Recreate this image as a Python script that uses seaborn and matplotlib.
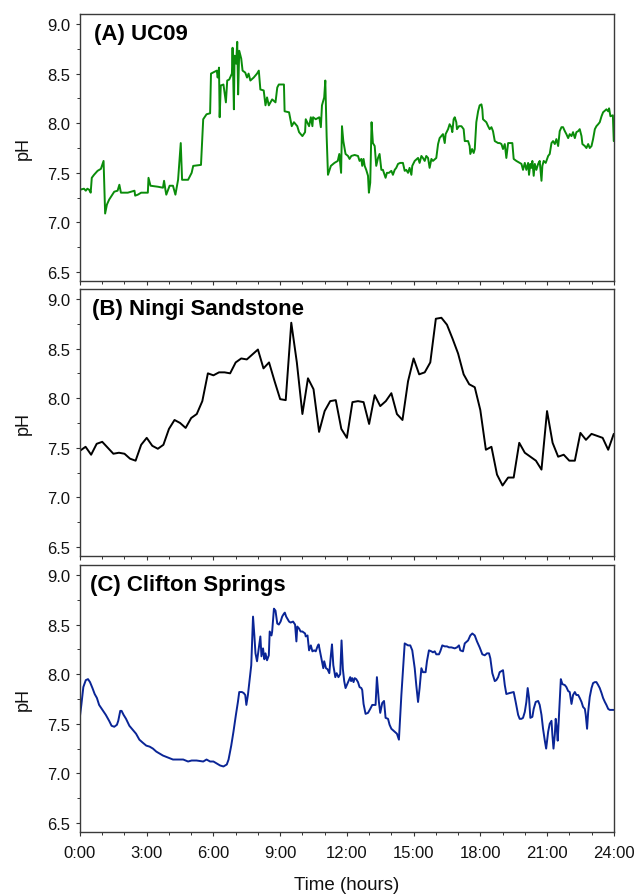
import numpy as np
import pandas as pd
import matplotlib
matplotlib.use("Agg")
import matplotlib.pyplot as plt
from matplotlib.ticker import MultipleLocator, FuncFormatter
import seaborn as sns

# ---- (A) UC09: logged pH, time in hours since midnight ----
uc09_hours = [
    0.00, 0.18, 0.26, 0.33, 0.41, 0.48, 0.53, 0.63, 0.79, 0.94,
    1.06, 1.13, 1.21, 1.31, 1.54, 1.69, 1.77, 1.84, 2.15, 2.45,
    2.48, 2.60, 2.75, 3.05, 3.08, 3.17, 3.50, 3.73, 3.78, 3.84,
    3.88, 4.03, 4.18, 4.29, 4.41, 4.53, 4.59, 4.86, 5.02, 5.09,
    5.44, 5.54, 5.69, 5.85, 5.89, 6.15, 6.19, 6.25, 6.28, 6.33,
    6.45, 6.56, 6.62, 6.71, 6.83, 6.86, 6.92, 6.95, 7.02, 7.07,
    7.11, 7.16, 7.25, 7.31, 7.43, 7.51, 7.58, 7.66, 7.81, 7.96,
    8.04, 8.11, 8.26, 8.34, 8.41, 8.49, 8.64, 8.79, 8.87, 8.94,
    9.17, 9.20, 9.40, 9.52, 9.62, 9.77, 9.85, 10.00, 10.12, 10.15,
    10.30, 10.38, 10.45, 10.48, 10.60, 10.76, 10.83, 10.88, 10.98, 11.03,
    11.09, 11.15, 11.28, 11.44, 11.59, 11.66, 11.74, 11.78, 11.84, 11.90,
    11.94, 12.05, 12.12, 12.20, 12.35, 12.50, 12.57, 12.65, 12.69, 12.75,
    12.80, 12.87, 12.95, 12.99, 13.05, 13.11, 13.17, 13.25, 13.32, 13.40,
    13.47, 13.55, 13.62, 13.74, 13.80, 13.89, 14.00, 14.07, 14.15, 14.22,
    14.30, 14.40, 14.52, 14.60, 14.67, 14.75, 14.82, 14.90, 14.94, 15.05,
    15.20, 15.27, 15.35, 15.42, 15.50, 15.57, 15.65, 15.72, 15.80, 15.87,
    16.02, 16.10, 16.17, 16.32, 16.40, 16.44, 16.55, 16.62, 16.70, 16.74,
    16.80, 16.85, 16.92, 16.95, 17.04, 17.15, 17.25, 17.30, 17.45, 17.52,
    17.55, 17.63, 17.70, 17.75, 17.82, 17.90, 17.97, 18.05, 18.09, 18.12,
    18.27, 18.35, 18.42, 18.50, 18.57, 18.65, 18.80, 18.87, 18.95, 19.02,
    19.10, 19.17, 19.25, 19.44, 19.50, 19.62, 19.77, 19.85, 19.92, 20.00,
    20.07, 20.15, 20.19, 20.25, 20.30, 20.34, 20.40, 20.45, 20.52, 20.60,
    20.67, 20.75, 20.79, 20.85, 20.94, 21.05, 21.12, 21.20, 21.27, 21.35,
    21.42, 21.50, 21.57, 21.65, 21.72, 21.80, 21.87, 21.95, 22.02, 22.10,
    22.17, 22.25, 22.32, 22.40, 22.47, 22.55, 22.59, 22.70, 22.77, 22.85,
    22.92, 23.00, 23.07, 23.15, 23.22, 23.30, 23.37, 23.45, 23.52, 23.67,
    23.75, 23.79, 23.85, 23.96, 24.00,
]
uc09_ph = [
    7.33, 7.34, 7.32, 7.34, 7.33, 7.30, 7.45, 7.48, 7.52, 7.54,
    7.62, 7.09, 7.18, 7.23, 7.31, 7.32, 7.38, 7.30, 7.30, 7.32,
    7.27, 7.28, 7.30, 7.30, 7.45, 7.37, 7.36, 7.35, 7.42, 7.33,
    7.28, 7.37, 7.37, 7.28, 7.43, 7.80, 7.43, 7.43, 7.50, 7.57,
    7.58, 8.04, 8.09, 8.10, 8.50, 8.53, 8.46, 8.56, 8.06, 8.38,
    8.39, 8.21, 8.43, 8.44, 8.50, 8.76, 8.14, 8.68, 8.60, 8.82,
    8.29, 8.73, 8.65, 8.53, 8.51, 8.46, 8.50, 8.43, 8.46, 8.50,
    8.53, 8.34, 8.33, 8.18, 8.26, 8.18, 8.24, 8.21, 8.36, 8.39,
    8.39, 8.12, 8.11, 7.97, 8.01, 7.97, 7.91, 7.87, 7.91, 8.04,
    7.97, 8.06, 7.97, 8.06, 8.04, 8.06, 7.96, 8.18, 8.26, 8.43,
    7.87, 7.48, 7.57, 7.60, 7.62, 7.69, 7.50, 7.97, 7.82, 7.74,
    7.69, 7.67, 7.64, 7.67, 7.68, 7.67, 7.62, 7.64, 7.57, 7.64,
    7.57, 7.53, 7.47, 7.30, 7.40, 8.01, 7.80, 7.77, 7.57, 7.65,
    7.69, 7.53, 7.53, 7.45, 7.50, 7.50, 7.52, 7.48, 7.53, 7.55,
    7.59, 7.60, 7.60, 7.52, 7.53, 7.50, 7.55, 7.48, 7.57, 7.62,
    7.65, 7.60, 7.67, 7.65, 7.62, 7.67, 7.65, 7.55, 7.64, 7.62,
    7.65, 7.79, 7.85, 7.89, 7.80, 7.89, 7.94, 7.99, 7.96, 7.91,
    8.04, 8.06, 8.01, 7.94, 7.97, 7.97, 7.94, 7.82, 7.82, 7.77,
    7.69, 7.74, 7.70, 7.74, 8.01, 8.12, 8.18, 8.19, 8.14, 8.04,
    8.01, 7.97, 7.94, 7.96, 7.92, 7.82, 7.80, 7.80, 7.79, 7.74,
    7.79, 7.65, 7.80, 7.80, 7.64, 7.62, 7.60, 7.59, 7.53, 7.60,
    7.53, 7.60, 7.48, 7.59, 7.55, 7.62, 7.47, 7.59, 7.53, 7.59,
    7.62, 7.42, 7.57, 7.62, 7.60, 7.67, 7.69, 7.80, 7.82, 7.79,
    7.84, 7.77, 7.92, 7.96, 7.96, 7.92, 7.89, 7.85, 7.89, 7.87,
    7.91, 7.85, 7.91, 7.92, 7.94, 7.87, 7.79, 7.77, 7.75, 7.79,
    7.75, 7.77, 7.84, 7.94, 7.97, 7.99, 8.01, 8.07, 8.11, 8.14,
    8.12, 8.15, 8.07, 8.08, 7.82,
]

# ---- (B) Ningi Sandstone: 15-minute readings from 0:00 to 24:00 ----
ningi_hours = np.linspace(0, 24, 97)
ningi_ph = [
    7.47, 7.51, 7.43, 7.54, 7.56, 7.50, 7.44, 7.45, 7.44, 7.39,
    7.37, 7.53, 7.60, 7.52, 7.49, 7.53, 7.69, 7.78, 7.75, 7.70,
    7.80, 7.84, 7.97, 8.25, 8.23, 8.26, 8.26, 8.25, 8.36, 8.40,
    8.39, 8.44, 8.49, 8.30, 8.36, 8.17, 7.99, 7.98, 8.76, 8.36,
    7.84, 8.20, 8.09, 7.66, 7.87, 7.97, 7.98, 7.69, 7.60, 7.96,
    7.97, 7.96, 7.74, 8.03, 7.92, 7.97, 8.05, 7.84, 7.78, 8.17,
    8.40, 8.24, 8.26, 8.36, 8.80, 8.81, 8.74, 8.60, 8.45, 8.24,
    8.14, 8.11, 7.88, 7.48, 7.51, 7.23, 7.12, 7.20, 7.20, 7.55,
    7.45, 7.41, 7.37, 7.28, 7.87, 7.55, 7.41, 7.43, 7.37, 7.37,
    7.65, 7.58, 7.64, 7.62, 7.60, 7.48, 7.64,
]

# ---- (C) Clifton Springs ----
clifton_hours = [
    0.00, 0.06, 0.15, 0.26, 0.36, 0.45, 0.56, 0.66, 0.76, 0.86,
    1.01, 1.16, 1.31, 1.42, 1.54, 1.66, 1.72, 1.81, 1.87, 1.96,
    2.07, 2.22, 2.37, 2.52, 2.67, 2.82, 2.98, 3.13, 3.28, 3.43,
    3.58, 3.73, 3.96, 4.18, 4.41, 4.64, 4.86, 5.02, 5.24, 5.54,
    5.69, 5.85, 6.00, 6.15, 6.30, 6.45, 6.60, 6.68, 6.80, 6.90,
    7.01, 7.10, 7.16, 7.28, 7.36, 7.43, 7.48, 7.55, 7.61, 7.70,
    7.78, 7.84, 7.89, 7.96, 8.04, 8.11, 8.16, 8.23, 8.29, 8.34,
    8.41, 8.49, 8.53, 8.61, 8.64, 8.72, 8.79, 8.87, 8.94, 9.02,
    9.09, 9.17, 9.21, 9.27, 9.40, 9.47, 9.58, 9.67, 9.73, 9.77,
    9.85, 9.92, 10.00, 10.12, 10.15, 10.23, 10.30, 10.38, 10.45, 10.53,
    10.60, 10.68, 10.73, 10.79, 10.88, 10.94, 10.98, 11.06, 11.13, 11.21,
    11.28, 11.33, 11.39, 11.48, 11.54, 11.62, 11.70, 11.76, 11.82, 11.88,
    11.94, 12.15, 12.19, 12.24, 12.30, 12.35, 12.42, 12.50, 12.57, 12.65,
    12.69, 12.75, 12.84, 12.95, 13.05, 13.14, 13.29, 13.35, 13.44, 13.50,
    13.59, 13.67, 13.74, 13.85, 13.92, 14.00, 14.15, 14.25, 14.34, 14.45,
    14.60, 14.75, 14.85, 14.94, 15.05, 15.12, 15.20, 15.27, 15.35, 15.42,
    15.54, 15.60, 15.69, 15.80, 15.87, 15.95, 16.02, 16.14, 16.20, 16.29,
    16.40, 16.50, 16.59, 16.70, 16.85, 16.95, 17.04, 17.10, 17.22, 17.30,
    17.45, 17.55, 17.64, 17.75, 17.85, 17.97, 18.09, 18.20, 18.30, 18.39,
    18.45, 18.54, 18.65, 18.72, 18.80, 18.87, 19.02, 19.10, 19.17, 19.32,
    19.50, 19.59, 19.70, 19.77, 19.85, 19.92, 20.00, 20.07, 20.13, 20.19,
    20.25, 20.34, 20.40, 20.49, 20.60, 20.67, 20.75, 20.82, 20.90, 20.96,
    21.05, 21.12, 21.20, 21.24, 21.29, 21.35, 21.39, 21.44, 21.48, 21.54,
    21.62, 21.69, 21.80, 21.87, 21.95, 22.02, 22.10, 22.17, 22.25, 22.32,
    22.40, 22.47, 22.55, 22.62, 22.70, 22.74, 22.80, 22.85, 22.92, 23.00,
    23.07, 23.15, 23.22, 23.30, 23.37, 23.45, 23.52, 23.60, 23.67, 23.75,
    23.82, 24.00,
]
clifton_ph = [
    7.58, 7.69, 7.87, 7.94, 7.95, 7.92, 7.86, 7.80, 7.76, 7.69,
    7.64, 7.59, 7.53, 7.48, 7.47, 7.49, 7.53, 7.63, 7.63, 7.59,
    7.55, 7.48, 7.44, 7.40, 7.34, 7.31, 7.28, 7.27, 7.25, 7.22,
    7.20, 7.18, 7.16, 7.14, 7.14, 7.14, 7.12, 7.13, 7.13, 7.12,
    7.14, 7.12, 7.12, 7.10, 7.08, 7.07, 7.09, 7.14, 7.28, 7.42,
    7.59, 7.72, 7.82, 7.82, 7.81, 7.79, 7.69, 7.79, 7.91, 8.09,
    8.58, 8.39, 8.21, 8.13, 8.26, 8.38, 8.18, 8.26, 8.15, 8.21,
    8.14, 8.19, 8.43, 8.39, 8.43, 8.66, 8.64, 8.51, 8.50, 8.53,
    8.58, 8.61, 8.62, 8.58, 8.53, 8.52, 8.53, 8.50, 8.33, 8.48,
    8.46, 8.43, 8.43, 8.41, 8.38, 8.39, 8.24, 8.29, 8.23, 8.24,
    8.23, 8.28, 8.30, 8.23, 8.13, 8.06, 8.13, 8.06, 8.05, 8.01,
    8.19, 8.30, 8.09, 7.97, 8.01, 7.97, 8.00, 8.34, 8.05, 7.93,
    7.86, 7.97, 7.93, 7.96, 7.92, 7.96, 7.95, 7.92, 7.87, 7.86,
    7.84, 7.70, 7.60, 7.61, 7.65, 7.69, 7.69, 7.97, 7.72, 7.61,
    7.71, 7.73, 7.56, 7.55, 7.49, 7.45, 7.42, 7.40, 7.34, 7.79,
    8.31, 8.29, 8.29, 8.24, 8.06, 7.89, 7.72, 7.86, 8.06, 8.02,
    8.02, 8.13, 8.24, 8.23, 8.22, 8.23, 8.20, 8.20, 8.23, 8.29,
    8.28, 8.28, 8.27, 8.27, 8.26, 8.27, 8.29, 8.24, 8.23, 8.31,
    8.34, 8.39, 8.41, 8.39, 8.33, 8.27, 8.20, 8.19, 8.21, 8.21,
    8.16, 8.01, 7.93, 7.94, 7.97, 8.02, 8.04, 7.89, 7.80, 7.81,
    7.82, 7.72, 7.59, 7.55, 7.55, 7.56, 7.62, 7.72, 7.86, 7.76,
    7.56, 7.57, 7.65, 7.72, 7.73, 7.69, 7.59, 7.45, 7.33, 7.25,
    7.42, 7.50, 7.53, 7.39, 7.25, 7.39, 7.55, 7.45, 7.33, 7.59,
    7.95, 7.90, 7.89, 7.87, 7.83, 7.82, 7.70, 7.79, 7.82, 7.79,
    7.79, 7.76, 7.72, 7.67, 7.65, 7.59, 7.45, 7.62, 7.77, 7.86,
    7.91, 7.92, 7.92, 7.89, 7.86, 7.81, 7.76, 7.72, 7.69, 7.65,
    7.64, 7.64,
]

panel_titles = ["(A) UC09", "(B) Ningi Sandstone", "(C) Clifton Springs"]
panel_colors = ["#0a8c0a", "#000000", "#0a2596"]
x_tick_hours = list(range(0, 25, 3))
y_tick_values = [6.5, 7.0, 7.5, 8.0, 8.5, 9.0]

sns.set_theme(style="ticks")
plt.rcParams["font.family"] = ["Liberation Sans", "DejaVu Sans"]

series = [
    pd.DataFrame({"hours": uc09_hours, "pH": uc09_ph}),
    pd.DataFrame({"hours": ningi_hours, "pH": ningi_ph}),
    pd.DataFrame({"hours": clifton_hours, "pH": clifton_ph}),
]

fig = plt.figure(figsize=(6.4, 8.95), dpi=100)
bottoms = [0.6849, 0.3777, 0.0693]
title_x = [0.027, 0.023, 0.018]
axes = []
for i, df in enumerate(series):
    ax = fig.add_axes([0.125, bottoms[i], 0.834, 0.2983])
    sns.lineplot(data=df, x="hours", y="pH", ax=ax, color=panel_colors[i],
                 linewidth=1.4, estimator=None, sort=False)
    ax.set_xlim(0, 24)
    ax.set_ylim(6.41, 9.10)
    ax.set_xticks(x_tick_hours)
    ax.xaxis.set_minor_locator(MultipleLocator(1))
    ax.set_yticks(y_tick_values)
    ax.yaxis.set_minor_locator(MultipleLocator(0.25))
    ax.yaxis.set_major_formatter(FuncFormatter(lambda v, _: f"{v:.1f}"))
    ax.xaxis.set_major_formatter(FuncFormatter(lambda v, _: f"{int(round(v))}:00"))
    ax.tick_params(axis="both", which="major", direction="out", length=3.2,
                   width=0.8, color="#333333", labelsize=12, pad=4,
                   labelcolor="#111111")
    ax.tick_params(axis="x", which="major", pad=6)
    ax.tick_params(axis="both", which="minor", direction="out", length=2.4,
                   width=0.7, color="#333333")
    for side in ["top", "bottom", "left", "right"]:
        ax.spines[side].set_visible(True)
        ax.spines[side].set_color("#3a3a3a")
        ax.spines[side].set_linewidth(1.0)
    ax.set_ylabel("pH", fontsize=13, labelpad=11, color="#111111")
    if i < 2:
        ax.set_xlabel("")
        ax.tick_params(axis="x", labelbottom=False)
    else:
        ax.set_xlabel("Time (hours)", fontsize=13.5, labelpad=12, color="#111111")
    ax.text(title_x[i], 0.965, panel_titles[i], transform=ax.transAxes,
            ha="left", va="top", fontsize=16, fontweight="bold", color="#000000")
    axes.append(ax)

fig.savefig("out.png", dpi=100)
